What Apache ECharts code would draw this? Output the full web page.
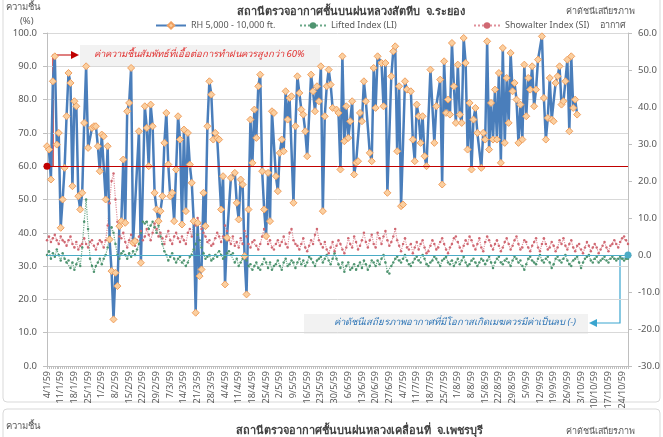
<!DOCTYPE html>
<html>
<head>
<meta charset="utf-8">
<script src="https://cdn.jsdelivr.net/npm/echarts@6/dist/echarts.min.js"></script>
<style>
  html, body { margin: 0; padding: 0; background: #fff; }
  #chart { width: 663px; height: 437px; }
</style>
</head>
<body>
<div id="chart"></div>
<script>
// daily soundings from 4/1/59, one value per day (null = no reading)
const startDay = new Date(2016, 0, 4);
const dayCount = 298;

const rh = [
  66, 65, 56, 85.5, 93, 66.5, 70, 41.5, 50, 59.5,
  75, 88, 85, 54, 79.5, 78, 51, 47, 52, 73,
  90, 65.5, null, 71.5, 72, 72, 66, 58.5, 69.5, 69,
  50, 66, 38, 28.5, 14, 28, 24, 42, 43.5, 62,
  43, 76.5, 79, 89.5, 37, 37.5, null, 70.5, 31, null,
  78, 71.5, 60, 78.5, 72, 52, 47, 43.5, 46.5, 51,
  67, 76, 60.5, 51, 52, 43.5, 59, 75, 68, 42.5,
  71, 46.5, 70, 60.5, 55, 43.5, 16, 43, 27, 29,
  52, 42, 72, 85.5, 81.5, 68, 70, 68.5, 68, 47,
  57, 24.5, 38.5, null, 56.5, null, 58, 49, 44, 56,
  54.5, 33, 21.5, 47, 74, 61, 77, 68.5, 84, 87.5,
  58.5, 47, 39, 58, 43.5, 76.5, 76, 57, 52.5, 64,
  68, 64.5, 82.5, 74, 80.5, 81, 49, 72, 87, 82,
  77, 75.5, 70.5, 63, null, 87.5, 82.5, 76.5, 84, 79.5,
  90, 46.5, 75, 84, 89, 84.5, 77.5, null, 77, 76,
  59, 93, 67.5, 78, 68.5, 73.5, 79.5, 57.5, 61, 61.5,
  76, 73.5, 85.5, 79.5, null, 64, 61.5, 89.5, 77.5, 93,
  null, 91, 78, 91, 52, null, 87, 94.5, 96, 64.5,
  84, 48, 48.5, 85.5, 83, null, 82.5, 68, 61.5, 78.5,
  75, 67, 75, 63, 60, null, 89, null, 67, 78,
  null, 86, 54.5, 91.5, 76, 80, 75.5, 97, 84, 73,
  90.5, 75.5, 73, 98.5, 91, 65, 79, 59, 74, 77.5,
  70, null, 59.5, 70, 68, 97.5, 65, 79, 68, 83,
  68, 88, 61, 95.5, 67, 86.5, 73, 94, 82.5, 85,
  80, 67, 78.5, 68, 90.5, 75, 86.5, 83, 90, 78,
  83, 92, null, 99, 80.5, 68, 74.5, 86.5, 74, 73.5,
  85, 87, 90, 78.5, 79.5, 85.5, 92, 70.5, 93, 77.5,
  80, 75.5
];

const li = [
  0, 1, -1, 0.5, -0.5, 1.5, 0, -1.5, 0.5, -1,
  -2, -1.5, -3.5, -2, -4, -2.5, -1, -3, 2, 9,
  15, 7, -1, -3, -4.5, -3, -2, -1, -2.5, -1,
  0, 2, 5, 7.5, 6, 3, 0, -1, 0.5, 1,
  0, -1, 0.5, -0.5, 1, 0, 1.5, 3, 6, 9,
  8.5, 9, 7, 8, 9, 7.5, 6, 8, 5, 3,
  1, 0, -1.5, -0.5, 0.5, -1, -2, -1, -0.5, -2,
  -1.5, -3, -2, -0.5, 0, 1.5, 3, 5.5, 4, 2,
  0.5, -1, -0.5, 0, -1.5, -1, 0, -0.5, 1, 0,
  -1, -0.5, 0.5, 1, 0, 0.5, -2, -1, -3, -2,
  -1, 0, -1.5, -3, -2.5, -4, -3, -2, -3.5, -4,
  -2.5, -1, -2, -3.5, -2, -4, -3, -2.5, -1.5, -3,
  -4, -2, -1, -3, -2.5, -1.5, -2, -3.5, -2, -1,
  -2.5, -1.5, -3, -2, -0.5, -1, -2, -3, -1.5, -1,
  -0.5, -2, -1, 0, -1.5, -2.5, -1, 0.5, -1, -2.5,
  -3.5, -2, -4.5, -3, -2, -4, -3.5, -2.5, -4, -3,
  -2, -3.5, -1.5, -2.5, -4, -3, -1.5, -2, -3, -1.5,
  -2.5, -1, 0, -2, -4.5, -5, -3, -2, -1, -0.5,
  -1.5, -2, -1, 0, -1.5, -2.5, -3, -2, -1, -0.5,
  -1.5, -2, 0, -1, -2.5, -3, -2, -1.5, -0.5, -1,
  -2, -3, -1.5, -1, -0.5, -2, -2.5, -1.5, -3, -2,
  -1, -2.5, -1.5, -0.5, -2, -3, -2.5, -1.5, -1, -2,
  -3, -2, -1, -1.5, -2.5, -1.5, -0.5, -2, -3.5, -2,
  -1, -0.5, -2, -2.5, -1.5, -1, -2, -3, -1.5, -0.5,
  -1, -2, -1.5, -3, -4, -2.5, -1, -0.5, -1.5, -2,
  -2.5, -1, 0, -1.5, -2, -1, -0.5, -2, -3.5, -2.5,
  -1, -0.5, -1.5, -2, -1, 0, -1.5, -2.5, -3, -1.5,
  -1, -0.5, -2, -3.5, -2, -1, -0.5, 0, -1.5, -2,
  -1, -0.5, -2, -1.5, -1, -0.5, -1.5, -2, -1, -0.5,
  -1, -1.5, -1, -0.5, -1, -1.5, -1, -1
];

const si = [
  4, 5, 3.5, 4.5, 5.5, 4, 3, 5, 4, 3.5,
  2.5, 4, 5, 3, 2, 3.5, 1.5, 2.5, 3, 4.5,
  3, 2, 3.5, 4, 2.5, 1.5, 3, 4, 3.5, 2,
  4, 8, 14, 20, 22, 15, 9, 5, 4.5, 6,
  3.5, 2, 4, 5.5, 3, 2.5, 4, 5, 6.5, 4,
  5, 7, 5.5, 4, 6, 8.5, 7, 5, 6, 4.5,
  3, 5, 6.5, 4, 3, 5, 6, 4.5, 3.5, 5,
  4, 3, 6, 7, 5, 9, 8, 10, 8.5, 7,
  6, 5, 3.5, 4, 2.5, 3, 4.5, 6, 5, 3.5,
  5, 8, 6.5, 4, 3, 5, 2.5, 3.5, 2, 4.5,
  3, 6.5, 5, 3, 2, 3.5, 4, 2.5, 1.5, 3,
  5, 7, 5.5, 3, 4, 2, 1.5, 3, 4, 2.5,
  3.5, 5, 3, 2, 6, 7, 4, 3, 2.5, 1.5,
  3, 4.5, 2, 1, 2.5, 4, 3, 5.5, 7, 4,
  3, 2, 3.5, 1.5, 0.5, 2, 3.5, 1, 2.5, 4,
  3, 1.5, 0.5, 2, 4.5, 3, 2, 5, 3.5, 1.5,
  2.5, 4, 6, 3.5, 2, 4, 5.5, 3, 2, 6,
  4.5, 3, 5, 6.5, 4, 2.5, 3.5, 5, 7, 4,
  2.5, 1, 3, 4.5, 2, 1.5, 3, 0.5, 2, 3.5,
  1.5, 3, 4, 2, 0.5, 1, 2.5, 4, 3, 1.5,
  2, 3.5, 4.5, 3, 1.5, 0.5, 2, 3, 4.5, 5,
  3.5, 2, 1, 2.5, 4, 3, 5, 4, 2.5, 1.5,
  3, 4.5, 2, 1, 3.5, 5, 4, 2.5, 1.5, 3,
  4, 2.5, 1, 2, 3.5, 4.5, 3, 1.5, 2.5, 4,
  5, 3, 1.5, 2, 4, 3.5, 2, 1, 2.5, 3.5,
  4.5, 2, 1, 3, 4.5, 3, 1.5, 2, 3.5, 2.5,
  1, 2, 4, 3, 4.5, 2.5, 1.5, 3, 4, 2,
  1, 2.5, 3, 1.5, 0.5, 2, 3.5, 2.5, 1, 2,
  3, 2, 0.5, 1.5, 2.5, 3.5, 2, 1, 2.5, 3,
  4, 3, 2, 3.5, 4.5, 5, 4, 3
];

const rhThreshold = 60;
const stableLimit = 0;

const days = [];
for (let i = 0; i < dayCount; i++) {
  const d = new Date(startDay.getTime() + i * 86400000);
  days.push(d.getDate() + '/' + (d.getMonth() + 1) + '/59');
}

const FONT = '"Noto Sans", "DejaVu Sans", sans-serif';
const grey = '#595959';

const chart = echarts.init(document.getElementById('chart'));
chart.setOption({
  animation: false,
  backgroundColor: '#fff',
  textStyle: { fontFamily: FONT },
  title: {
    text: 'สถานีตรวจอากาศชั้นบนฝนหลวงสัตหีบ  จ.ระยอง',
    left: 232, top: 1,
    textStyle: { fontSize: 11, fontWeight: 'bold', color: '#404040', fontFamily: FONT }
  },
  legend: [
    { data: ['RH 5,000 - 10,000 ft.'], left: 150, top: 16, itemWidth: 30, itemHeight: 8,
      textStyle: { fontSize: 9, color: grey } },
    { data: ['Lifted Index (LI)'], left: 294, top: 16, itemWidth: 26, itemHeight: 8,
      textStyle: { fontSize: 9, color: grey } },
    { data: ['Showalter Index (SI)'], left: 468, top: 16, itemWidth: 26, itemHeight: 8,
      textStyle: { fontSize: 9, color: grey } }
  ],
  grid: { left: 47, right: 35, top: 33, bottom: 71 },
  xAxis: {
    type: 'category',
    data: days,
    boundaryGap: false,
    axisLine: { lineStyle: { color: '#bfbfbf' } },
    axisTick: { interval: 0, length: 3, lineStyle: { color: '#bfbfbf' } },
    axisLabel: { interval: 6, rotate: 90, fontSize: 9, color: grey, margin: 5 },
    splitLine: { show: false }
  },
  yAxis: [
    {
      type: 'value', min: 0, max: 100, interval: 10,
      axisLine: { show: true, lineStyle: { color: '#bfbfbf' } },
      axisTick: { show: true, length: 4, lineStyle: { color: '#bfbfbf' } },
      axisLabel: { fontSize: 9.5, color: grey, formatter: v => v.toFixed(1), margin: 10 },
      splitLine: { lineStyle: { color: '#d9d9d9' } }
    },
    {
      type: 'value', min: -30, max: 60, interval: 10,
      axisLine: { show: true, lineStyle: { color: '#bfbfbf' } },
      axisTick: { show: true, length: 4, lineStyle: { color: '#bfbfbf' } },
      axisLabel: { fontSize: 9.5, color: grey, formatter: v => v.toFixed(1), margin: 10 },
      splitLine: { show: false }
    }
  ],
  series: [
    {
      name: 'Lifted Index (LI)', type: 'line', yAxisIndex: 1, data: li,
      symbol: 'circle', symbolSize: 2.5, showAllSymbol: true,
      lineStyle: { color: '#6aa888', width: 1.2, type: 'dotted' },
      itemStyle: { color: '#4f9470' },
      markLine: {
        silent: true, symbol: ['none', 'circle'], symbolSize: 7,
        lineStyle: { color: '#4bacc6', width: 1, type: 'solid' },
        label: { show: false },
        data: [{ yAxis: stableLimit }]
      }
    },
    {
      name: 'Showalter Index (SI)', type: 'line', yAxisIndex: 1, data: si,
      symbol: 'circle', symbolSize: 2.5, showAllSymbol: true,
      lineStyle: { color: '#e0909a', width: 1.2, type: 'dotted' },
      itemStyle: { color: '#d06872' }
    },
    {
      name: 'RH 5,000 - 10,000 ft.', type: 'line', yAxisIndex: 0, data: rh,
      connectNulls: true, showAllSymbol: true,
      symbol: 'diamond', symbolSize: 7,
      lineStyle: { color: '#4a7ebb', width: 2.5 },
      itemStyle: { color: '#fbcf9f', borderColor: '#f0a060', borderWidth: 1 },
      markLine: {
        silent: true, symbol: ['circle', 'none'], symbolSize: 7,
        lineStyle: { color: '#c00000', width: 1, type: 'solid' },
        label: { show: false },
        data: [{ yAxis: rhThreshold }]
      }
    }
  ],
  graphic: [
    { type: 'rect', shape: { x: 3, y: -6, width: 657, height: 408, r: 4 },
      style: { fill: 'none', stroke: '#d9d9d9', lineWidth: 1 }, silent: true },
    { type: 'text', left: 6, top: 2, style: { text: 'ความชื้น', fontSize: 9.5, fill: grey, fontFamily: FONT } },
    { type: 'text', left: 20, top: 16, style: { text: '(%)', fontSize: 9.5, fill: grey, fontFamily: FONT } },
    { type: 'text', left: 566, top: 7, style: { text: 'ค่าดัชนีเสถียรภาพ', fontSize: 9, fill: grey, fontFamily: FONT } },
    { type: 'text', left: 600, top: 21, style: { text: 'อากาศ', fontSize: 9, fill: grey, fontFamily: FONT } },

    // threshold note
    { type: 'rect', shape: { x: 80, y: 45, width: 240, height: 21 }, style: { fill: '#f2f2f2' }, silent: true },
    { type: 'text', left: 94, top: 49, style: { text: 'ค่าความชื้นสัมพัทธ์ที่เอื้อต่อการทำฝนควรสูงกว่า 60%',
      fontSize: 9.5, fontStyle: 'italic', fill: '#e0302f', fontFamily: FONT } },
    { type: 'polyline', shape: { points: [[53, 166], [53, 55], [72, 55]] },
      style: { stroke: '#c00000', lineWidth: 1.2, fill: 'none' }, silent: true },
    { type: 'polygon', shape: { points: [[71, 51], [79, 55], [71, 59]] }, style: { fill: '#c00000' }, silent: true },

    // stability note
    { type: 'rect', shape: { x: 304, y: 314, width: 284, height: 20 }, style: { fill: '#f2f2f2' }, silent: true },
    { type: 'text', left: 334, top: 317, style: { text: 'ค่าดัชนีเสถียรภาพอากาศที่มีโอกาสเกิดเมฆควรมีค่าเป็นลบ (-)',
      fontSize: 9.5, fontStyle: 'italic', fill: '#2e75b6', fontFamily: FONT } },
    { type: 'polyline', shape: { points: [[627, 258], [620, 258], [620, 323], [597, 323]] },
      style: { stroke: '#3aa5cf', lineWidth: 1.2, fill: 'none' }, silent: true },
    { type: 'polygon', shape: { points: [[597, 319], [589, 323], [597, 327]] }, style: { fill: '#3aa5cf' }, silent: true },

    // top of the next chart on the page
    { type: 'rect', shape: { x: 3, y: 409, width: 657, height: 40, r: 4 },
      style: { fill: 'none', stroke: '#d9d9d9', lineWidth: 1 }, silent: true },
    { type: 'text', left: 6, top: 421, style: { text: 'ความชื้น', fontSize: 9.5, fill: grey, fontFamily: FONT } },
    { type: 'text', left: 236, top: 425, style: { text: 'สถานีตรวจอากาศชั้นบนฝนหลวงเคลื่อนที่  จ.เพชรบุรี',
      fontSize: 11, fontWeight: 'bold', fill: '#404040', fontFamily: FONT } },
    { type: 'text', left: 566, top: 427, style: { text: 'ค่าดัชนีเสถียรภาพ', fontSize: 9, fill: grey, fontFamily: FONT } }
  ]
});
</script>
</body>
</html>
